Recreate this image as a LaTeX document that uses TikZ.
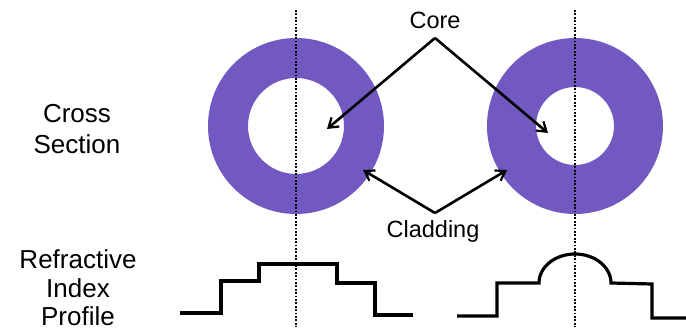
\documentclass[tikz,border=0pt]{standalone}
\usepackage{fontspec}
\setmainfont{Liberation Sans}
\usetikzlibrary{arrows.meta}
\definecolor{clad}{RGB}{113,89,193}
\begin{document}
\begin{tikzpicture}[x=1pt,y=-1pt,
  sidelabel/.style={align=center,inner sep=0pt},
  partlabel/.style={anchor=base,inner sep=0pt,font=\fontsize{23.5}{28}\selectfont},
  axisline/.style={line width=1.8pt,dash pattern=on 1.8pt off 1.6pt},
  profile/.style={line width=3.2pt,line join=miter},
  pointer/.style={line width=2.6pt,-{Straight Barb[length=9pt,width=12pt,line width=2.2pt]}}]
\useasboundingbox (0,0) rectangle (686,331);

% fibre cross sections: cladding ring with the core hole
\fill[clad,even odd rule] (296,126) circle[radius=88] (296,126) circle[radius=48];
\fill[clad,even odd rule] (575,126) circle[radius=88] (575,126) circle[radius=39];

% fibre axes
\draw[axisline] (296,10) -- (296,327);
\draw[axisline] (575,10) -- (575,327);

% row labels
\node[sidelabel,font=\fontsize{26}{31}\selectfont] (xsec) at (77,129) {Cross\\Section};
\node[sidelabel,font=\fontsize{26}{28.5}\selectfont] (ridx) at (78,288) {Refractive\\Index\\Profile};

% part labels and pointers
\node[partlabel] (core) at (435,29) {Core};
\node[partlabel] (clad) at (433,238) {Cladding};
\coordinate (coretip) at (435,38);
\coordinate (cladtip) at (435,213);
\coordinate (coreL) at (327,129);
\coordinate (coreR) at (548,133);
\coordinate (cladL) at (363,170);
\coordinate (cladR) at (507,170);
\draw[pointer] (coretip) -- (coreL);
\draw[pointer] (coretip) -- (coreR);
\draw[pointer] (cladtip) -- (cladL);
\draw[pointer] (cladtip) -- (cladR);

% step-index profile
\draw[profile] (180,313) -- (221,313) -- (221,281) -- (259,281) -- (259,264)
  -- (337,264) -- (337,283) -- (375,283) -- (375,315) -- (413,315);

% graded core profile
\draw[profile] (457,316) -- (497,316) -- (497,283) -- (539,283)
  arc[start angle=180,end angle=0,x radius=36,y radius=-29]
  -- (652,284) -- (652,318) -- (686,318);
\end{tikzpicture}
\end{document}
